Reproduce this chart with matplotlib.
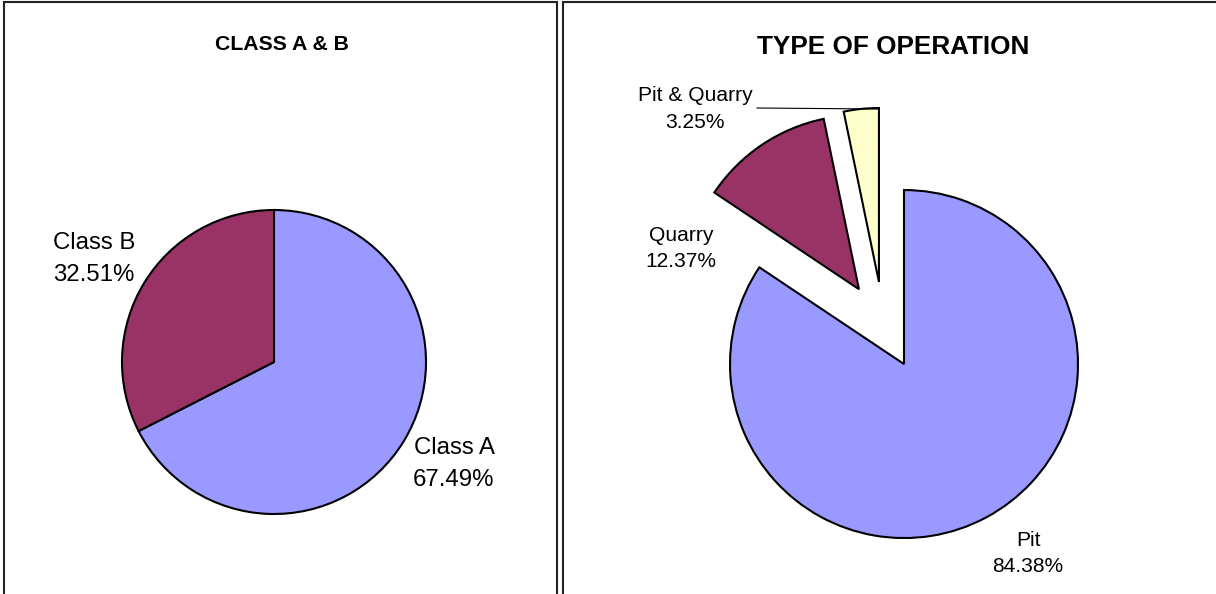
import matplotlib
matplotlib.use("Agg")
import matplotlib.pyplot as plt
from matplotlib.patches import Rectangle

plt.rcParams['font.family'] = ['Liberation Sans', 'DejaVu Sans']

# Data
class_labels = ["Class A", "Class B"]
class_values = [67.49, 32.51]
class_colors = ["#9999FF", "#993366"]

op_labels = ["Pit", "Quarry", "Pit & Quarry"]
op_values = [84.38, 12.37, 3.25]
op_colors = ["#9999FF", "#993366", "#FFFFCC"]

W, H = 1216, 594
fig = plt.figure(figsize=(W / 100, H / 100), dpi=100)
ax = fig.add_axes([0, 0, 1, 1])

def Y(y):
    return H - y

wp = dict(edgecolor="black", linewidth=1.5)

# Left pie
ax.pie(class_values, colors=class_colors, startangle=90, counterclock=False,
       center=(274, Y(362)), radius=152, wedgeprops=wp, frame=True)

# Right pie (all wedges exploded)
ax.pie(op_values, colors=op_colors, startangle=90, counterclock=False,
       center=(883.4, Y(325.5)), radius=174, explode=[43.7, 43.7, 43.7],
       wedgeprops=wp, frame=True)

ax.set_xlim(0, W)
ax.set_ylim(0, H)
ax.set_aspect("auto")
ax.axis("off")

# Panel borders
ax.add_patch(Rectangle((4, Y(650)), 553, 648, fill=False, edgecolor="#222222", linewidth=1.5))
ax.add_patch(Rectangle((563, Y(650)), 700, 648, fill=False, edgecolor="#222222", linewidth=1.5))

# Titles
ax.text(281.5, Y(44.5), "CLASS A & B", ha="center", va="center", fontsize=15.3, fontweight="bold")
ax.text(893, Y(46.5), "TYPE OF OPERATION", ha="center", va="center", fontsize=18.8, fontweight="bold")

# Labels left
ax.text(94, Y(259), f"{class_labels[1]}\n{class_values[1]:.2f}%", ha="center", va="center",
        fontsize=17.3, linespacing=1.6)
ax.text(454, Y(464), f"{class_labels[0]}\n{class_values[0]:.2f}%", ha="center", va="center",
        fontsize=17.3, linespacing=1.6)

# Labels right
ax.text(695, Y(109), f"{op_labels[2]}\n{op_values[2]:.2f}%", ha="center", va="center",
        fontsize=15.1, linespacing=1.5)
ax.text(681, Y(248.5), f"{op_labels[1]}\n{op_values[1]:.2f}%", ha="center", va="center",
        fontsize=15.1, linespacing=1.5)
ax.text(1028, Y(553.5), f"{op_labels[0]}\n{op_values[0]:.2f}%", ha="center", va="center",
        fontsize=15.1, linespacing=1.5)

# Leader line for Pit & Quarry
ax.plot([757, 878], [Y(108), Y(109)], color="black", linewidth=0.8)

fig.savefig("out.png", dpi=100)
